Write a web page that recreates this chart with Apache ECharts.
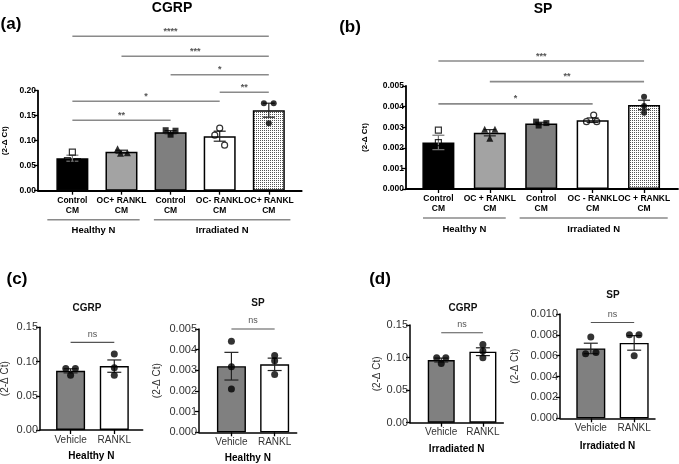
<!DOCTYPE html>
<html>
<head>
<meta charset="utf-8">
<script src="https://cdn.jsdelivr.net/npm/echarts@6/dist/echarts.min.js"></script>
<style>
  html, body { margin: 0; background: #fff; }
  #chart { width: 679px; height: 464px; }
</style>
</head>
<body>
<div id="chart"></div>
<script>
// ---- data ----
// (a) CGRP, (b) SP : five groups
const aCats = ['Control\nCM', 'OC+ RANKL\nCM', 'Control\nCM', 'OC- RANKL\nCM', 'OC+ RANKL\nCM'];
const aMeans = [0.065, 0.078, 0.117, 0.109, 0.161];
const aSem = [0.006, 0.003, 0.003, 0.010, 0.014];
const aPoints = [[0.077, 0.060, 0.058], [0.084, 0.076, 0.075], [0.121, 0.120, 0.112], [0.125, 0.111, 0.091], [0.175, 0.175, 0.135]];
const aSig = [[1, 5, 0.309, '****'], [2, 5, 0.269, '***'], [3, 5, 0.232, '*'], [4, 5, 0.197, '**'], [1, 4, 0.179, '*'], [1, 3, 0.141, '**']];
const aGroups = [[0.49, 2.37, 'Healthy N'], [2.66, 5.44, 'Irradiated N']];

const bCats = ['Control\nCM', 'OC + RANKL\nCM', 'Control\nCM', 'OC - RANKL\nCM', 'OC + RANKL\nCM'];
const bMeans = [0.00226, 0.00273, 0.00318, 0.00334, 0.00408];
const bSem = [0.00035, 0.00015, 0.00006, 0.00011, 0.00023];
const bPoints = [[0.00286, 0.00225, 0.00167], [0.00290, 0.00290, 0.00246], [0.00327, 0.00320, 0.00308], [0.00359, 0.00327, 0.00327], [0.00448, 0.00403, 0.00370]];
const bSig = [[1, 5, 0.00621, '***'], [2, 5, 0.00521, '**'], [1, 4, 0.00413, '*']];
const bGroups = [[0.70, 2.31, 'Healthy N'], [2.58, 5.46, 'Irradiated N']];

// (c) Healthy N, (d) Irradiated N : Vehicle vs RANKL
const vrCats = ['Vehicle', 'RANKL'];
const cCgrpMeans = [0.0864, 0.0933];
const cCgrpSem = [0.003, 0.009];
const cCgrpPoints = [[0.090, 0.090, 0.080], [0.111, 0.091, 0.080]];
const cSpMeans = [0.00320, 0.00329];
const cSpSem = [0.00067, 0.00030];
const cSpPoints = [[0.00441, 0.00317, 0.00209], [0.00372, 0.00346, 0.00280]];
const dCgrpMeans = [0.0962, 0.1090];
const dCgrpSem = [0.003, 0.006];
const dCgrpPoints = [[0.0997, 0.0997, 0.091], [0.120, 0.110, 0.0997]];
const dSpMeans = [0.00670, 0.00723];
const dSpSem = [0.0005, 0.0007];
const dSpPoints = [[0.0078, 0.0062, 0.0063], [0.0080, 0.0080, 0.0060]];
const cCgrpSig = [[1, 2, 0.128, 'ns']];
const cSpSig = [[1, 2, 0.0050, 'ns']];
const dCgrpSig = [[1, 2, 0.138, 'ns']];
const dSpSig = [[1, 2, 0.00919, 'ns']];

// ---- styling ----
const FONT = 'Liberation Sans, Arial, sans-serif';

const dots = document.createElement('canvas');
dots.width = 2; dots.height = 2;
const dctx = dots.getContext('2d');
dctx.fillStyle = '#fff'; dctx.fillRect(0, 0, 2, 2);
dctx.fillStyle = '#555'; dctx.fillRect(0, 0, 1, 1);
const dotted = { image: dots, repeat: 'repeat' };

const hollow = { color: 'rgba(0,0,0,0)', borderColor: '#000', borderWidth: 1.2 };
const solid = { color: '#000' };
const fiveFills = ['#000000', '#a3a3a3', '#7f7f7f', '#ffffff', dotted];
const fiveSymbols = [['rect', hollow, 6], ['triangle', solid, 7], ['rect', solid, 6], ['circle', hollow, 6], ['circle', solid, 6]];
const fiveJit = [[0, -0.1, 0.1], [-0.08, 0.12, -0.02], [-0.1, 0.1, 0], [0, -0.1, 0.1], [-0.1, 0.1, 0]];
const fiveErr = ['#777', '#222', '#222', '#222', '#222'];

const panels = [
  { cats: aCats, means: aMeans, sem: aSem, pts: aPoints, sig: aSig, groups: aGroups,
    grid: { left: 38, top: 90.7, width: 263.7, height: 100 }, xMin: 0.3, xMax: 5.67,
    yMax: 0.20, yStep: 0.05, dec: 2, barW: 32, nameGap: 29, big: true, sigColor: '#8a8a8a',
    jit: fiveJit, fills: fiveFills, syms: fiveSymbols, err: fiveErr },
  { cats: bCats, means: bMeans, sem: bSem, pts: bPoints, sig: bSig, groups: bGroups,
    grid: { left: 406, top: 86, width: 272, height: 103 }, xMin: 0.37, xMax: 5.66,
    yMax: 0.005, yStep: 0.001, dec: 3, barW: 32, nameGap: 37, big: true, sigColor: '#8a8a8a',
    jit: [[0, 0, 0], [-0.1, 0.1, 0], [-0.1, 0.1, -0.05], [0.02, -0.12, 0.08], [0, 0, 0]],
    fills: fiveFills, syms: fiveSymbols, err: fiveErr },
  { cats: vrCats, means: cCgrpMeans, sem: cCgrpSem, pts: cCgrpPoints, sig: cCgrpSig, xName: 'Healthy N',
    grid: { left: 40, top: 327.3, width: 102.7, height: 102.7 }, xMin: 0.30, xMax: 2.65,
    yMax: 0.15, yStep: 0.05, dec: 2, barW: 29, nameGap: 30, xNameGap: 21,
    jit: [[-0.11, 0.11, 0], [0, 0, 0]] },
  { cats: vrCats, means: cSpMeans, sem: cSpSem, pts: cSpPoints, sig: cSpSig, xName: 'Healthy N',
    grid: { left: 199, top: 329, width: 97.7, height: 103.3 }, xMin: 0.25, xMax: 2.51,
    yMax: 0.005, yStep: 0.001, dec: 3, barW: 29, nameGap: 37, xNameGap: 21,
    jit: [[0, 0, 0], [0, 0, 0]] },
  { cats: vrCats, means: dCgrpMeans, sem: dCgrpSem, pts: dCgrpPoints, sig: dCgrpSig, xName: 'Irradiated N',
    grid: { left: 410, top: 325, width: 93.3, height: 97.7 }, xMin: 0.25, xMax: 2.49,
    yMax: 0.15, yStep: 0.05, dec: 2, barW: 27, nameGap: 28, xNameGap: 22,
    jit: [[-0.11, 0.11, 0], [0, 0, 0]] },
  { cats: vrCats, means: dSpMeans, sem: dSpSem, pts: dSpPoints, sig: dSpSig, xName: 'Irradiated N',
    grid: { left: 560, top: 314, width: 95, height: 104.3 }, xMin: 0.29, xMax: 2.48,
    yMax: 0.010, yStep: 0.002, dec: 3, barW: 29, nameGap: 40, xNameGap: 23,
    jit: [[0, -0.12, 0.12], [-0.11, 0.11, 0]] }
];

const grids = [], xAxes = [], yAxes = [], series = [];

panels.forEach((p, gi) => {
  const big = !!p.big;
  const idx = p.cats.map((c, i) => i + 1);
  grids.push(Object.assign({ outerBoundsMode: 'none', containLabel: false }, p.grid));

  xAxes.push({
    gridIndex: gi, type: 'value', min: p.xMin, max: p.xMax,
    name: p.xName || '', nameLocation: 'middle', nameGap: p.xNameGap || 0,
    nameTextStyle: { fontFamily: FONT, fontWeight: 'bold', fontSize: 10, color: '#000' },
    axisLine: { show: true, lineStyle: { color: '#000', width: big ? 1.8 : 1.5 } },
    axisTick: { show: true, customValues: idx, length: 4, lineStyle: { color: '#000', width: 1.3 } },
    axisLabel: {
      customValues: idx, margin: big ? 5 : 4,
      formatter: v => p.cats[Math.round(v) - 1] || '',
      fontFamily: FONT, fontWeight: big ? 'bold' : 'normal', fontSize: big ? 8.5 : 10,
      lineHeight: big ? 10 : 12, color: big ? '#000' : '#333'
    },
    splitLine: { show: false }
  });

  yAxes.push({
    gridIndex: gi, type: 'value', min: 0, max: p.yMax, interval: p.yStep,
    name: '(2-\u0394 Ct)', nameLocation: 'middle', nameGap: p.nameGap, nameMoveOverlap: false,
    nameTextStyle: { fontFamily: FONT, fontWeight: big ? 'bold' : 'normal', fontSize: big ? 8 : 10, color: big ? '#000' : '#333' },
    axisLine: { show: true, lineStyle: { color: '#000', width: big ? 1.8 : 1.5 } },
    axisTick: { show: true, length: 4, lineStyle: { color: '#000', width: 1.3 } },
    axisLabel: {
      margin: 2, formatter: v => v.toFixed(p.dec),
      fontFamily: FONT, fontWeight: big ? 'bold' : 'normal', fontSize: big ? 8.5 : 11,
      color: big ? '#000' : '#333'
    },
    splitLine: { show: false }
  });

  const fills = p.fills || ['#808080', '#ffffff'];

  series.push({
    type: 'bar', xAxisIndex: gi, yAxisIndex: gi, barWidth: p.barW, z: 2,
    data: p.means.map((m, i) => ({ value: [i + 1, m], itemStyle: { color: fills[i] } })),
    itemStyle: { borderColor: '#000', borderWidth: big ? 1.5 : 1.4 }
  });

  series.push({
    type: 'custom', xAxisIndex: gi, yAxisIndex: gi, z: 3,
    data: p.means.map((m, i) => [i + 1, m - p.sem[i], m + p.sem[i]]),
    encode: { x: 0, y: [1, 2] },
    renderItem: (params, api) => {
      const x = api.value(0);
      const lo = api.coord([x, api.value(1)]);
      const hi = api.coord([x, api.value(2)]);
      const col = p.err ? p.err[params.dataIndex] : '#222';
      const w = big ? 6 : 7;
      const st = { stroke: col, lineWidth: 1.2 };
      return { type: 'group', children: [
        { type: 'line', shape: { x1: lo[0], y1: lo[1], x2: hi[0], y2: hi[1] }, style: st },
        { type: 'line', shape: { x1: hi[0] - w, y1: hi[1], x2: hi[0] + w, y2: hi[1] }, style: st },
        { type: 'line', shape: { x1: lo[0] - w, y1: lo[1], x2: lo[0] + w, y2: lo[1] }, style: st }
      ] };
    }
  });

  p.pts.forEach((vals, i) => {
    const sym = p.syms ? p.syms[i] : ['circle', solid, 7];
    series.push({
      type: 'scatter', xAxisIndex: gi, yAxisIndex: gi, z: 4,
      symbol: sym[0], symbolSize: sym[2], itemStyle: sym[1],
      data: vals.map((v, k) => [i + 1 + p.jit[i][k], v])
    });
  });

  series.push({
    type: 'custom', xAxisIndex: gi, yAxisIndex: gi, z: 5, clip: false,
    data: p.sig.map(s => [s[0], s[2], s[1]]),
    renderItem: (params, api) => {
      const s = p.sig[params.dataIndex];
      const a = api.coord([s[0], s[2]]);
      const b = api.coord([s[1], s[2]]);
      const ns = s[3] === 'ns';
      return { type: 'group', children: [
        { type: 'line', shape: { x1: a[0], y1: a[1], x2: b[0], y2: b[1] },
          style: { stroke: ns ? '#555' : p.sigColor, lineWidth: ns ? 1.1 : 1.6 } },
        { type: 'text', style: { text: s[3], x: (a[0] + b[0]) / 2, y: a[1] - (ns ? 8 : 5),
          align: 'center', verticalAlign: 'middle', fill: '#555',
          font: (ns ? '9px ' : 'bold 9px ') + FONT } }
      ] };
    }
  });

  if (p.groups) {
    series.push({
      type: 'custom', xAxisIndex: gi, yAxisIndex: gi, z: 5, clip: false,
      data: p.groups.map(g => [g[0], 0, g[1]]),
      renderItem: (params, api) => {
        const g = p.groups[params.dataIndex];
        const a = api.coord([g[0], 0]);
        const b = api.coord([g[1], 0]);
        return { type: 'group', children: [
          { type: 'line', shape: { x1: a[0], y1: a[1] + 29, x2: b[0], y2: b[1] + 29 },
            style: { stroke: '#8a8a8a', lineWidth: 1.6 } },
          { type: 'text', style: { text: g[2], x: (a[0] + b[0]) / 2, y: a[1] + 40,
            align: 'center', verticalAlign: 'middle', fill: '#000', font: 'bold 9.5px ' + FONT } }
        ] };
      }
    });
  }
});

const labels = [
  ['(a)', 11, 24, 'bold 17px ', '#000'], ['(b)', 350, 27, 'bold 17px ', '#000'],
  ['(c)', 17, 279, 'bold 17px ', '#000'], ['(d)', 380, 279, 'bold 17px ', '#000'],
  ['CGRP', 172, 8, 'bold 14px ', '#000'], ['SP', 543, 9, 'bold 14px ', '#000'],
  ['CGRP', 87, 308, 'bold 10px ', '#111'], ['SP', 258, 303, 'bold 10px ', '#111'],
  ['CGRP', 463, 308, 'bold 10px ', '#111'], ['SP', 613, 295, 'bold 10px ', '#111']
];

const chart = echarts.init(document.getElementById('chart'), null, { renderer: 'canvas' });
chart.setOption({
  animation: false,
  backgroundColor: '#fff',
  grid: grids,
  xAxis: xAxes,
  yAxis: yAxes,
  series: series,
  graphic: labels.map(l => ({
    type: 'text', x: l[1], y: l[2], z: 10,
    style: { text: l[0], font: l[3] + FONT, fill: l[4], align: 'center', verticalAlign: 'middle' }
  }))
});
</script>
</body>
</html>
